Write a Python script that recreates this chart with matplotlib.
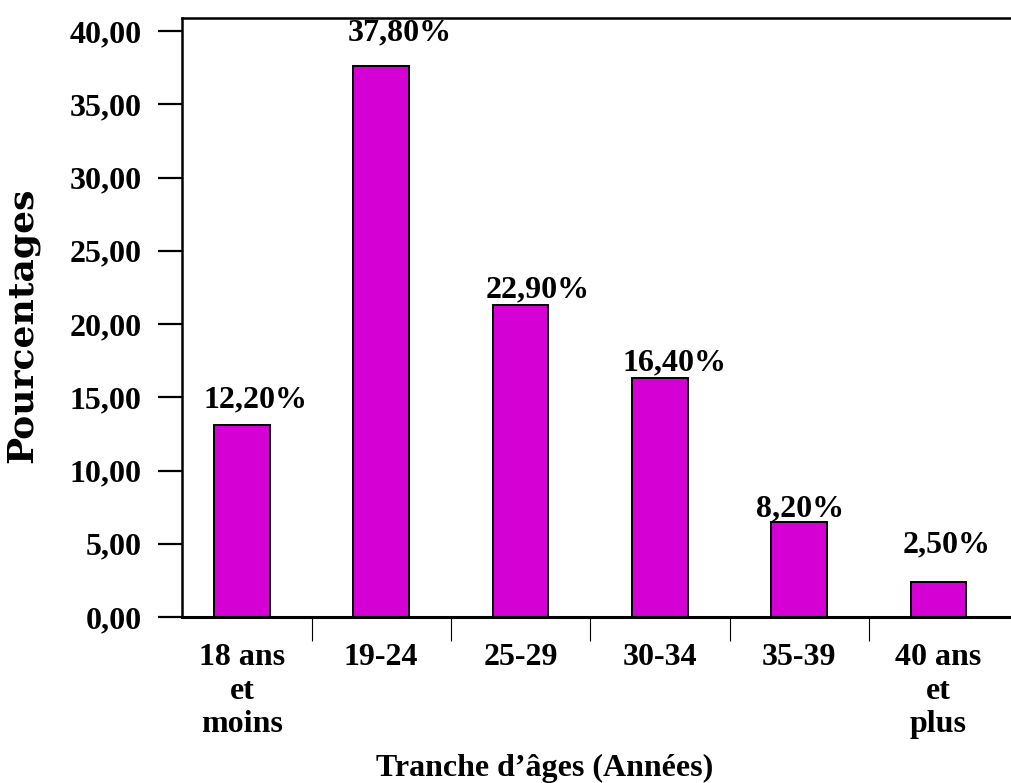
import matplotlib.pyplot as plt
import numpy as np

categories = ["18 ans\net\nmoins", "19-24", "25-29", "30-34", "35-39", "40 ans\net\nplus"]
bar_heights = [13.1, 37.6, 21.3, 16.3, 6.5, 2.4]
bar_labels = ["12,20%", "37,80%", "22,90%", "16,40%", "8,20%", "2,50%"]
y_ticks = [0, 5, 10, 15, 20, 25, 30, 35, 40]

# label offsets in pixels (dx, dy from bar top), as placed in the original
label_dx = [14, 19, 17, 15, 1, 8]
label_dy = [18, 26, 8, 8, 5, 29]

serif = ["Liberation Serif", "DejaVu Serif"]
fs = 23

fig = plt.figure(figsize=(10.11, 7.83), dpi=100)
ax = fig.add_axes([0.18, 0.212, 0.82, 0.765])

x = np.arange(len(categories))
ax.bar(x, bar_heights, width=0.4, color="#d400d4", edgecolor="black", linewidth=1.4, zorder=2)

for i in range(len(x)):
    ax.annotate(bar_labels[i], (x[i], bar_heights[i]), xytext=(label_dx[i], label_dy[i]),
                textcoords="offset pixels", ha="center", va="baseline",
                family=serif, fontweight="bold", fontsize=fs)

ax.set_xlim(-0.43, 5.52)
ax.set_ylim(0, 40.9)

ax.set_yticks(y_ticks)
ax.set_yticklabels([("%.2f" % v).replace(".", ",") for v in y_ticks],
                   family=serif, fontweight="bold", fontsize=fs)
ax.tick_params(axis="y", direction="out", length=17, width=1.6, pad=12)

ax.set_xticks(x)
ax.set_xticklabels(categories, family=serif, fontweight="bold", fontsize=fs, linespacing=1.2)
ax.tick_params(axis="x", which="major", length=0, pad=19)
ax.set_xticks(x[:-1] + 0.5, minor=True)
ax.tick_params(axis="x", which="minor", direction="out", length=17, width=0.8)

ax.spines["right"].set_visible(False)
ax.spines["top"].set_linewidth(1.8)
ax.spines["left"].set_linewidth(1.8)
ax.spines["bottom"].set_linewidth(2.2)

ax.set_xlabel("Tranche d\u2019âges (Années)", family=serif, fontweight="bold", fontsize=fs)
ax.xaxis.set_label_coords(0.438, -0.228)
ax.set_ylabel("Pourcentages", family=["DejaVu Serif"], fontweight="bold", fontsize=26,
              va="center")
ax.yaxis.set_label_coords(-0.193, 0.4875)

fig.savefig("out.png", dpi=100)
